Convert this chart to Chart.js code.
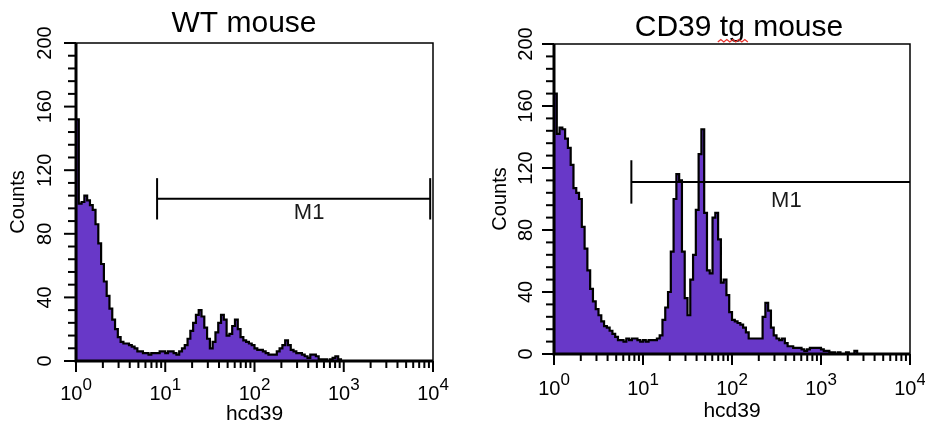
<!DOCTYPE html>
<html>
<head>
<meta charset="utf-8">
<script src="https://cdn.jsdelivr.net/npm/chart.js@4.4.1/dist/chart.umd.min.js"></script>
<style>
  html, body { margin: 0; padding: 0; background: #fff; }
  body { width: 925px; height: 426px; position: relative; overflow: hidden; }
  canvas { position: absolute; top: 0; }
  #wt { left: 0; }
  #tg { left: 478px; }
</style>
</head>
<body>
<canvas id="wt" width="462" height="426"></canvas>
<canvas id="tg" width="447" height="426"></canvas>
<script>
// 128 histogram channels spread evenly over four log decades (10^0 .. 10^4)
const CHANNELS_PER_DECADE = 32;

// Event counts per channel, WT mouse
const wtCounts = [
  152, 99, 100, 104, 101, 98, 95, 86, 74, 61,
  50, 41, 33, 26, 20, 15, 12, 11, 11, 10,
  9, 8, 6, 6, 5, 5, 4, 5, 5, 5,
  6, 6, 5, 6, 6, 5, 4, 6, 8, 10,
  14, 19, 24, 29, 32, 28, 21, 14, 8, 12,
  18, 24, 29, 26, 16, 17, 22, 26, 20, 15,
  13, 12, 11, 10, 8, 7, 7, 6, 5, 4,
  4, 4, 6, 8, 10, 13, 10, 7, 6, 5,
  5, 4, 3, 2, 4, 4, 3, 1, 1, 1,
  0, 1, 2, 3, 1, 0, 0, 0, 0, 0,
  0, 0, 0, 0, 0, 0, 0, 0, 0, 0,
  0, 0, 0, 0, 0, 0, 0, 0, 0, 0,
  0, 0, 0, 0, 0, 0, 0, 0
];

// Event counts per channel, CD39 transgenic mouse
const tgCounts = [
  168, 142, 146, 145, 139, 133, 122, 107, 104, 100,
  82, 68, 54, 42, 34, 29, 25, 21, 18, 17,
  15, 13, 11, 9, 9, 8, 10, 9, 10, 10,
  9, 8, 9, 8, 9, 9, 9, 10, 12, 22,
  30, 40, 66, 100, 116, 112, 66, 36, 25, 48,
  64, 93, 129, 145, 91, 54, 52, 88, 91, 74,
  46, 48, 38, 27, 22, 21, 20, 19, 17, 14,
  10, 10, 10, 10, 10, 24, 33, 28, 17, 12,
  10, 9, 10, 7, 5, 5, 4, 4, 4, 3,
  2, 3, 4, 4, 4, 4, 3, 2, 2, 1,
  1, 0, 1, 0, 0, 1, 0, 0, 2, 0,
  0, 0, 0, 0, 0, 0, 0, 0, 0, 0,
  0, 0, 0, 0, 0, 0, 0, 0
];

// M1 marker: [low edge, high edge, level in counts]
const wtGate = [8.1, 9300, 102];
const tgGate = [7.4, 10000, 111];

// Axis ticks
const yMajorTicks = [0, 40, 80, 120, 160, 200];
const yMinorStep = 8;
const xDecades = [1, 10, 100, 1000, 10000];
const xTickExponents = ['0', '1', '2', '3', '4'];

// Texts
const titles = ['WT mouse', 'CD39 tg mouse'];
const xAxisTitle = 'hcd39';
const yAxisTitle = 'Counts';
const gateName = 'M1';

const FONT = "'Liberation Sans', Arial, Helvetica, sans-serif";
const PURPLE = '#6838C8';
Chart.defaults.font.family = FONT;

// Step outline points: each channel's count starts at its lower edge
function histogramPoints(counts) {
  const pts = [{ x: 1, y: 0 }];
  counts.forEach((c, i) => pts.push({ x: Math.pow(10, i / CHANNELS_PER_DECADE), y: c }));
  pts.push({ x: 10000, y: 0 });
  return pts;
}

// Frame, tick marks, tick labels, marker label and panel title
const fcsDecor = {
  id: 'fcsDecor',
  afterDatasetsDraw(chart, args, o) {
    const { ctx, chartArea: a, scales: { x, y } } = chart;
    ctx.save();
    ctx.strokeStyle = '#000';
    ctx.fillStyle = '#000';
    ctx.lineCap = 'butt';

    // thin top/right frame
    ctx.lineWidth = 1.5;
    ctx.beginPath();
    ctx.moveTo(a.left, a.top);
    ctx.lineTo(a.right, a.top);
    ctx.lineTo(a.right, a.bottom);
    ctx.stroke();

    // y tick marks
    ctx.lineWidth = 2;
    const yMax = yMajorTicks[yMajorTicks.length - 1];
    for (let v = yMajorTicks[0]; v <= yMax; v += yMinorStep) {
      const py = y.getPixelForValue(v);
      const len = yMajorTicks.includes(v) ? o.majorLen : o.minorLen;
      ctx.beginPath();
      ctx.moveTo(a.left - len, py);
      ctx.lineTo(a.left, py);
      ctx.stroke();
    }

    // x tick marks (decades + 2..9 minors)
    xDecades.forEach((d, k) => {
      const px = x.getPixelForValue(d);
      ctx.beginPath();
      ctx.moveTo(px, a.bottom);
      ctx.lineTo(px, a.bottom + o.majorLen - 1);
      ctx.stroke();
      if (k < xDecades.length - 1) {
        for (let m = 2; m <= 9; m++) {
          const pm = x.getPixelForValue(d * m);
          ctx.beginPath();
          ctx.moveTo(pm, a.bottom);
          ctx.lineTo(pm, a.bottom + o.minorLen - 1);
          ctx.stroke();
        }
      }
    });

    // heavy left and bottom axes
    ctx.lineWidth = 3;
    ctx.beginPath();
    ctx.moveTo(a.left, a.top);
    ctx.lineTo(a.left, a.bottom);
    ctx.lineTo(a.right, a.bottom);
    ctx.stroke();

    // rotated y tick labels
    ctx.font = `20px ${FONT}`;
    ctx.textAlign = 'center';
    ctx.textBaseline = 'middle';
    yMajorTicks.forEach(v => {
      ctx.save();
      ctx.translate(a.left - o.yLabelGap, y.getPixelForValue(v));
      ctx.rotate(-Math.PI / 2);
      ctx.fillText(String(v), 0, 0);
      ctx.restore();
    });

    // x tick labels: 10 with raised exponent
    ctx.textAlign = 'left';
    ctx.textBaseline = 'alphabetic';
    xDecades.forEach((d, k) => {
      const px = x.getPixelForValue(d);
      ctx.font = `20px ${FONT}`;
      const wb = ctx.measureText('10').width;
      ctx.font = `17px ${FONT}`;
      const ws = ctx.measureText(xTickExponents[k]).width;
      const x0 = px - (wb + ws) / 2;
      const base = a.bottom + o.xLabelBase;
      ctx.font = `20px ${FONT}`;
      ctx.fillText('10', x0, base);
      ctx.font = `17px ${FONT}`;
      ctx.fillText(xTickExponents[k], x0 + wb, base - o.supRaise);
    });

    // marker label
    ctx.font = `22px ${FONT}`;
    ctx.fillStyle = '#1a1a1a';
    ctx.textAlign = 'center';
    ctx.textBaseline = 'middle';
    ctx.fillText(gateName, x.getPixelForValue(o.gateLabel.x), y.getPixelForValue(o.gateLabel.y));

    // panel title
    ctx.fillStyle = '#000';
    ctx.font = `30px ${FONT}`;
    ctx.textAlign = 'center';
    ctx.textBaseline = 'alphabetic';
    ctx.fillText(o.title, o.titleX, o.titleY);

    // red spell-check squiggle under a word of the title
    if (o.squiggleWord) {
      const full = ctx.measureText(o.title).width;
      const idx = o.title.indexOf(o.squiggleWord);
      const pre = ctx.measureText(o.title.slice(0, idx)).width;
      const ww = ctx.measureText(o.squiggleWord).width;
      const sx0 = o.titleX - full / 2 + pre - 2;
      const sx1 = sx0 + ww + 6;
      const sy = o.titleY + 6;
      ctx.strokeStyle = '#e8332e';
      ctx.lineWidth = 1.3;
      ctx.beginPath();
      let up = true;
      ctx.moveTo(sx0, sy);
      for (let sx = sx0 + 3; sx <= sx1; sx += 3) {
        ctx.lineTo(sx, up ? sy - 2.5 : sy);
        up = !up;
      }
      ctx.stroke();
    }
    ctx.restore();
  }
};

const gateStyle = {
  borderColor: '#000', borderWidth: 2, pointRadius: 0, fill: false, order: 0
};

function makeChart(id, counts, gate, o) {
  const datasets = [
    Object.assign({ data: [{ x: gate[0], y: gate[2] }, { x: gate[1], y: gate[2] }] }, gateStyle),
    Object.assign({ data: [{ x: gate[0], y: gate[2] - o.barHalf }, { x: gate[0], y: gate[2] + o.barHalf }] }, gateStyle)
  ];
  if (o.highBar) {
    datasets.push(Object.assign({ data: [{ x: gate[1], y: gate[2] - o.barHalf }, { x: gate[1], y: gate[2] + o.barHalf }] }, gateStyle));
  }
  datasets.push({
    data: histogramPoints(counts),
    stepped: 'before',
    fill: 'origin',
    backgroundColor: PURPLE,
    borderColor: '#000',
    borderWidth: 2.2,
    pointRadius: 0,
    order: 1
  });

  return new Chart(document.getElementById(id), {
    type: 'line',
    data: { datasets },
    options: {
      responsive: false,
      animation: false,
      devicePixelRatio: 1,
      layout: { padding: { left: 0, top: o.top, right: o.padRight, bottom: 0 } },
      plugins: {
        legend: { display: false },
        tooltip: { enabled: false },
        title: { display: false },
        fcsDecor: {
          title: o.title, titleX: o.titleX, titleY: o.titleY, squiggleWord: o.squiggleWord,
          majorLen: 12, minorLen: 8, yLabelGap: o.yLabelGap,
          xLabelBase: o.xLabelBase, supRaise: 10, gateLabel: o.gateLabel
        }
      },
      scales: {
        x: {
          type: 'logarithmic', min: 1, max: 10000,
          grid: { display: false }, border: { display: false }, ticks: { display: false },
          title: {
            display: true, text: xAxisTitle, color: '#000',
            font: { size: 21, lineHeight: 1 }, padding: { top: 0, bottom: o.xTitlePad }
          },
          afterFit: s => { s.height = o.xHeight; }
        },
        y: {
          type: 'linear', min: 0, max: 200,
          grid: { display: false }, border: { display: false }, ticks: { display: false },
          title: {
            display: true, text: yAxisTitle, color: '#000',
            font: { size: 20, lineHeight: 1.2 }, padding: { top: o.yTitlePad, bottom: 0 }
          },
          afterFit: s => { s.width = o.yWidth; }
        }
      }
    },
    plugins: [fcsDecor]
  });
}

makeChart('wt', wtCounts, wtGate, {
  title: titles[0], titleX: 244, titleY: 32, squiggleWord: null,
  top: 43, padRight: 29, xHeight: 65, yWidth: 76,
  xTitlePad: 1, yTitlePad: 6, yLabelGap: 31, xLabelBase: 39,
  gateLabel: { x: 409, y: 93 }, barHalf: 13, highBar: true
});

makeChart('tg', tgCounts, tgGate, {
  title: titles[1], titleX: 261, titleY: 36, squiggleWord: 'tg',
  top: 44, padRight: 15, xHeight: 72, yWidth: 76,
  xTitlePad: 4, yTitlePad: 10, yLabelGap: 28, xLabelBase: 41,
  gateLabel: { x: 408, y: 99 }, barHalf: 14, highBar: false
});
</script>
</body>
</html>
